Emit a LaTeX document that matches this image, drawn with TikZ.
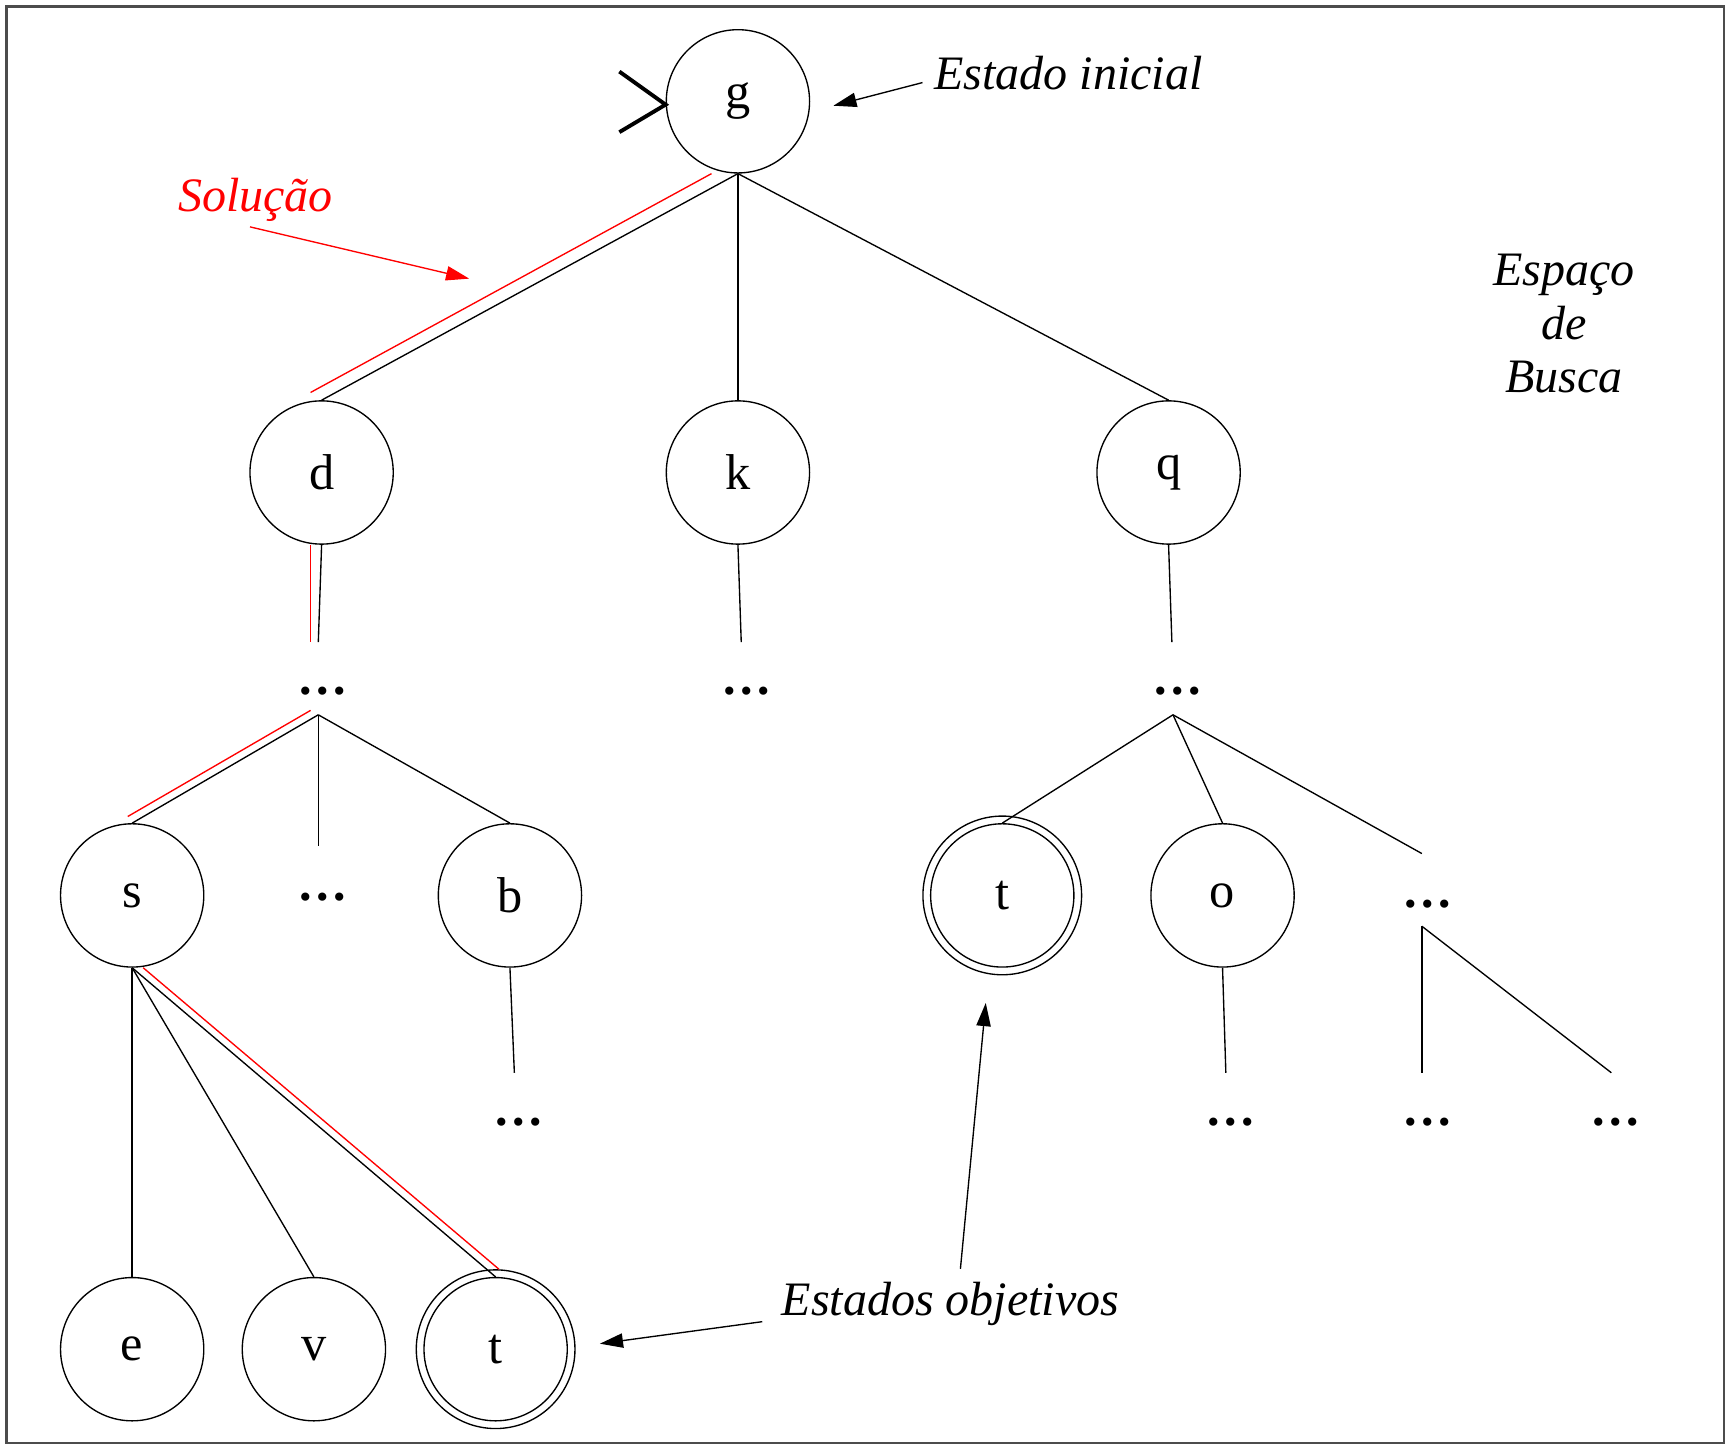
\documentclass[tikz,border=0pt]{standalone}
\usepackage{fontspec}
\setmainfont{Liberation Serif}
\usetikzlibrary{arrows.meta,calc}
\begin{document}
\begin{tikzpicture}[x=0.01cm,y=-0.01cm,
  every node/.style={font=\fontsize{12.4}{15}\selectfont},
  state/.style={circle,draw,line width=0.35pt,minimum size=1.3cm,inner sep=0pt,font=\fontsize{13}{15}\selectfont},
  dots/.style={inner sep=0pt,anchor=base,font=\fontsize{13}{15}\selectfont\bfseries},
  lbl/.style={font=\fontsize{12.4}{15}\selectfont\itshape,inner sep=0pt,anchor=base},
  edge/.style={line width=0.35pt},
  sol/.style={red,line width=0.35pt},
  arr/.style={line width=0.35pt,-{Triangle[length=0.21cm,width=0.13cm]}},
]
\useasboundingbox (0,0) rectangle (1568,1313);
\draw[black!70,line width=0.6pt] (6,6) rectangle (1565,1310);

% states
\node[state] (g) at (670,92) {g};
\node[state] (d) at (292,429) {d};
\node[state] (k) at (670,429) {k};
\node[state] (q) at (1061,429) {q};
\node[state] (s) at (120,813) {s};
\node[state] (b) at (463,813) {b};
\node[state] (t2) at (910,813) {t};
\node[state] (o) at (1110,813) {o};
\node[state] (e) at (120,1225) {e};
\node[state] (v) at (285,1225) {v};
\node[state] (t1) at (450,1225) {t};
\draw[edge] (t1) circle[radius=0.72cm];
\draw[edge] (t2) circle[radius=0.72cm];

% ellipses
\node[dots] (dd) at (293,631) {…};
\node[dots] (dk) at (678,631) {…};
\node[dots] (dq) at (1069,631) {…};
\node[dots] (ds) at (293,818) {…};
\node[dots] (dr) at (1296,824) {…};
\node[dots] (db) at (471,1022) {…};
\node[dots] (do) at (1117,1022) {…};
\node[dots] (drr1) at (1296,1022) {…};
\node[dots] (drr2) at (1467,1022) {…};

% free ends of connectors
\coordinate (dd-top) at (289,583);
\coordinate (dd-br) at (289,649);
\coordinate (dk-top) at (673,583);
\coordinate (dq-top) at (1064,583);
\coordinate (dq-br) at (1065,649);
\coordinate (ds-top) at (289,768);
\coordinate (db-top) at (467,974);
\coordinate (dr-top) at (1291,775);
\coordinate (dr-br) at (1291,841);
\coordinate (do-top) at (1113,974);
\coordinate (drr1-top) at (1291,974);
\coordinate (drr2-top) at (1463,974);

% tree edges
\draw[edge] (g.south) -- (d.north);
\draw[edge] (g.south) -- (k.north);
\draw[edge] (g.south) -- (q.north);
\draw[edge] (d.south) -- (dd-top);
\draw[edge] (k.south) -- (dk-top);
\draw[edge] (q.south) -- (dq-top);
\draw[edge] (dd-br) -- (s.north);
\draw[edge] (dd-br) -- (ds-top);
\draw[edge] (dd-br) -- (b.north);
\draw[edge] (b.south) -- (db-top);
\draw[edge] (s.south) -- (e.north);
\draw[edge] (s.south) -- (v.north);
\draw[edge] (s.south) -- (t1.north);
\draw[edge] (dq-br) -- (t2.north);
\draw[edge] (dq-br) -- (o.north);
\draw[edge] (dq-br) -- (dr-top);
\draw[edge] (o.south) -- (do-top);
\draw[edge] (dr-br) -- (drr1-top);
\draw[edge] (dr-br) -- (drr2-top);

% solution path
\draw[sol] ($(g.south)+(-24,0)$) -- ($(d.north)+(-10,-7)$);
\draw[sol] ($(d.south)+(-10,0)$) -- ($(dd-top)+(-7,0)$);
\draw[sol] ($(dd-br)+(-7,-4)$) -- ($(s.north)+(-4,-6)$);
\draw[sol] ($(s.south)+(10,0)$) -- ($(t1.north)+(3,-7)$);

% start marker
\draw[line width=1pt] ($(g.west)+(-42,-27)$) -- ($(g.west)+(0,3)$) -- ($(g.west)+(-42,28)$);

% labels
\node[lbl] (init) at (970,81) {Estado inicial};
\node[lbl,red] (solu) at (232,192) {Solução};
\node[lbl] (esp1) at (1420,259) {Espaço};
\node[lbl] (esp2) at (1420,308) {de};
\node[lbl] (esp3) at (1420,356) {Busca};
\node[lbl] (obj) at (863,1194) {Estados objetivos};

\coordinate (init-tip) at ($(g.east)+(21,4)$);
\coordinate (solu-tip) at (426,253);
\coordinate (obj-tip1) at ($(t1.east)+(29,-5)$);
\coordinate (obj-tip2) at ($(t2.south)+(-15,32)$);

\draw[arr] ($(init.base west)+(-10,-6)$) -- (init-tip);
\draw[arr,red] ($(solu.base)+(-5,14)$) -- (solu-tip);
\draw[arr] ($(obj.base west)+(-17,6)$) -- (obj-tip1);
\draw[arr] ($(obj.base)+(9,-42)$) -- (obj-tip2);
\end{tikzpicture}
\end{document}
